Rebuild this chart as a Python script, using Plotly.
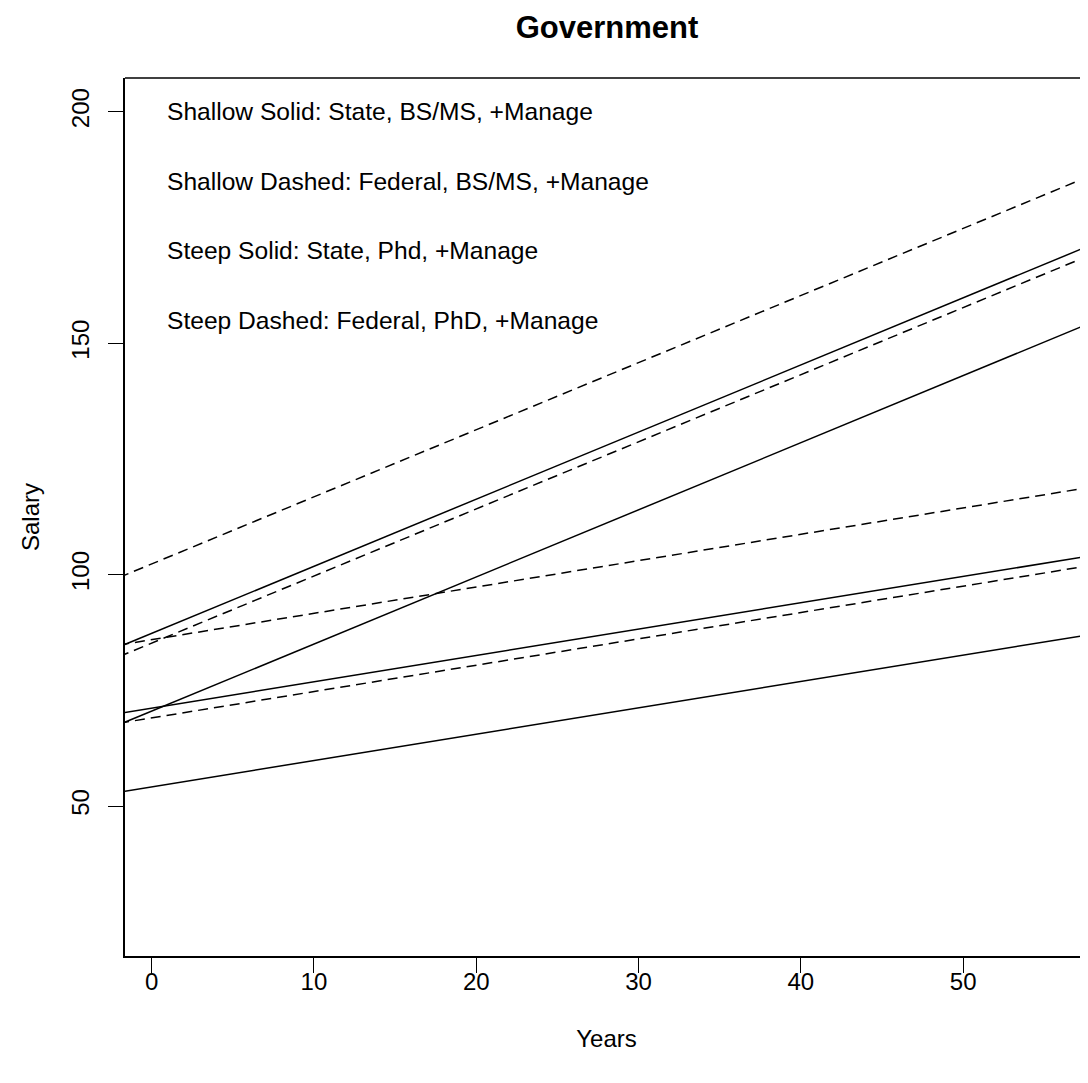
import plotly.graph_objects as go

# Data: salary lines evaluated at the two ends of the year span
years = [-2, 60]
state_phd = [[84.4, 174.3], [67.6, 157.5]]        # steep solid
state_bsms = [[70.0, 105.3], [53.0, 88.3]]        # shallow solid
federal_phd = [[99.4, 189.3], [82.3, 172.2]]      # steep dashed
federal_bsms = [[84.8, 120.1], [67.9, 103.2]]     # shallow dashed

x_ticks = [0, 10, 20, 30, 40, 50, 60]
y_ticks = [50, 100, 150, 200]

notes = [
    "Shallow Solid: State, BS/MS, +Manage",
    "Shallow Dashed: Federal, BS/MS, +Manage",
    "Steep Solid: State, Phd, +Manage",
    "Steep Dashed: Federal, PhD, +Manage",
]
note_y = [200, 185, 170, 155]
note_x = 0.85

FONT = "Liberation Sans, Arial, sans-serif"

W, H = 1080, 1075  # page body adds an 8px margin

fig = go.Figure()
groups = [
    (state_phd, "solid"),
    (state_bsms, "solid"),
    (federal_phd, "10px,6px"),
    (federal_bsms, "10px,6px"),
]
for grp, dash in groups:
    for vals in grp:
        fig.add_trace(go.Scatter(
            x=years, y=vals, mode="lines",
            line=dict(color="black", width=1.5, dash=dash),
            showlegend=False, hoverinfo="skip",
        ))

for txt, yv in zip(notes, note_y):
    fig.add_annotation(
        x=note_x, y=yv, text=txt, showarrow=False,
        xanchor="left", yanchor="middle",
        font=dict(family=FONT, size=24.6, color="black"),
    )

# top frame line
fig.add_shape(type="line", xref="paper", yref="paper", x0=0, x1=1, y0=1, y1=1,
              line=dict(color="black", width=1.5))

fig.update_layout(
    width=W, height=H,
    margin=dict(l=117, r=0, t=70, b=127),
    plot_bgcolor="white", paper_bgcolor="white",
    title=dict(text="<b>Government</b>", x=599 / W, xanchor="center",
               y=1 - 19 / H, yanchor="middle",
               font=dict(family=FONT, size=31, color="black")),
    font=dict(family=FONT, color="black"),
)
fig.update_xaxes(
    range=[-1.64, 57.69], tickvals=x_ticks, ticktext=[str(v) for v in x_ticks],
    showgrid=False, zeroline=False, showline=True, linecolor="black", linewidth=1.5,
    ticks="outside", ticklen=15, tickwidth=1.3, tickcolor="black",
    ticklabelstandoff=-12,
    tickfont=dict(family=FONT, size=24, color="black"),
    title=dict(text="Years", font=dict(family=FONT, size=24, color="black"), standoff=37),
)
fig.update_yaxes(
    range=[17.6, 207.3], tickvals=y_ticks, ticktext=[str(v) for v in y_ticks],
    showgrid=False, zeroline=False, showline=True, linecolor="black", linewidth=1.5,
    ticks="outside", ticklen=15, tickwidth=1.3, tickcolor="black", tickangle=-90,
    ticklabelstandoff=10,
    tickfont=dict(family=FONT, size=24, color="black"),
    title=dict(text="Salary", font=dict(family=FONT, size=24, color="black"), standoff=20),
)

fig.write_html("out.html")
